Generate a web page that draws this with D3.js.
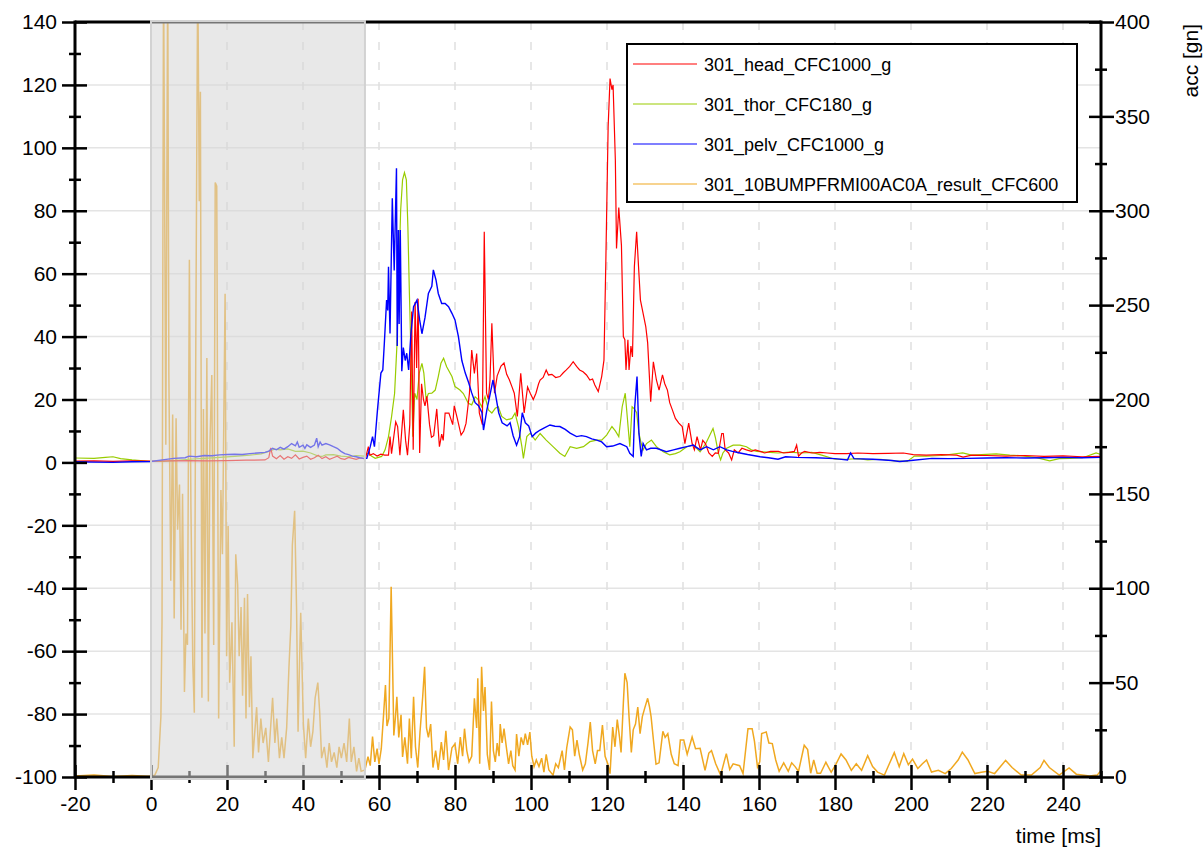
<!DOCTYPE html>
<html>
<head>
<meta charset="utf-8">
<script src="https://cdnjs.cloudflare.com/ajax/libs/d3/7.8.5/d3.min.js"></script>
<style>
  body { margin: 0; background: #fff; }
  text { font-family: "Liberation Sans", Arial, sans-serif; fill: #000; }
</style>
</head>
<body>
<svg id="chart" width="1203" height="847"></svg>
<script>
// Channel values: [time ms, value]
// head / thor / pelv on the left axis (g), the bumper channel on the right axis (gn)
const headData = [[-20,0.4],[-15,0.5],[-10,0.3],[-5,0.5],[0,0.4],[5,0.5],[10,0.6],[15,0.5],[20,0.6],[25,0.7],[30,0.8],[31,1.5],[31.5,4.6],[32,2.0],[33,1.2],[34,2.2],[35,1.0],[36,1.8],[37,1.3],[38,2.4],[39,1.1],[40,1.6],[41,2.0],[42,1.0],[43,1.5],[44,2.3],[45,1.2],[46,1.8],[47,1.0],[48,1.5],[49,2.0],[50,1.2],[51,1.0],[52,1.6],[53,1.3],[54,1.0],[55,1.4],[56,1.2],[56.5,1.5],[57.2,5.0],[57.6,2.3],[58.5,2.8],[59.5,2.0],[60.5,2.6],[61.5,2.3],[62.5,2.3],[62.9,8.2],[63.3,2.8],[64.4,12.9],[64.9,11.4],[65.5,2.3],[66.4,16.7],[67.0,7],[67.5,2.3],[68.1,12],[68.6,48],[69.0,4],[69.5,51],[69.9,30],[70.3,52],[70.7,3],[71.2,25],[71.7,20],[72.1,18],[72.6,21],[73.3,12],[73.8,8],[74.4,8.5],[75.2,17],[75.9,5],[76.5,9],[76.9,7],[77.4,15.7],[78.4,15.7],[79.4,12],[79.8,18],[80.6,14],[81.6,8.7],[82.3,10],[82.9,12.4],[83.8,22],[84.4,35.7],[85.1,28.3],[85.7,34.6],[86.4,15.7],[87.2,12],[87.7,73.3],[88.3,22],[88.8,20],[89.2,26],[89.7,44.2],[90.4,22],[91.1,27.5],[92.1,30.6],[92.9,31.6],[93.6,28],[94.3,26.3],[95.0,24],[95.6,22],[96.4,14.6],[97.3,28.3],[98.2,15.7],[99.1,24],[99.8,22],[100.6,20],[101.3,22],[102.0,25],[102.4,26.2],[103.2,27],[104.0,29.4],[104.6,27.8],[105.5,28],[106.5,27],[107.6,27.3],[108.5,28.5],[109.3,29.4],[110.2,30.5],[111.1,32],[112.0,30.5],[112.8,29.4],[113.7,28.8],[114.6,27.8],[115.5,26.2],[116.2,26.5],[116.8,24.6],[117.7,22.5],[118.6,27.3],[119.2,32.5],[119.7,64.3],[120.3,106.7],[120.8,122],[121.3,118.5],[121.6,120],[122.2,96],[122.5,68],[123.1,81],[123.8,69],[124.3,40],[124.7,39],[125.0,29.4],[125.5,39],[125.8,29.4],[126.3,37],[126.7,33.5],[127.2,62.2],[127.8,73.3],[128.3,62.2],[128.8,51.6],[129.5,47.4],[130.2,43.2],[130.7,38],[131.5,19.3],[132.2,32],[133.0,26.2],[133.7,23],[134.6,27.8],[135.2,25],[135.9,23],[136.5,19],[137.2,16.7],[138.0,14],[138.9,12.5],[139.8,11.4],[140.5,6],[141.5,12.5],[142.4,6],[143.0,4],[143.7,8.2],[144.6,4],[145.2,7],[145.9,6],[146.8,3],[147.7,1.9],[148.5,3],[149.3,2.9],[150.2,9.2],[150.6,9.2],[151.1,4],[152.0,3],[152.8,0.8],[153.5,4],[154.5,3],[155.5,4.5],[156.7,4],[158,3.5],[159,4],[160.3,3.5],[161.5,3],[163,3.5],[165.1,3.5],[166.5,3],[168,3.2],[169.3,3.5],[169.9,5.5],[170.4,2],[171.2,3],[172,3.5],[174,3],[176,3.2],[178,3],[180,2.8],[183,2.8],[186,3],[190,2.8],[194,2.9],[198,3],[200.6,2.5],[204,2.3],[208,2.5],[212,2.3],[213.7,1.7],[216,2.3],[220,2.2],[225,2.0],[230,2.2],[235,1.9],[240,2.1],[245,1.8],[250,1.9]];

const thorData = [[-20,1.4],[-15,1.3],[-12,1.6],[-10,1.8],[-8,1.2],[-5,0.8],[-2,0.5],[0,0.3],[3,0.3],[6,0.6],[10,1.0],[14,1.3],[18,1.6],[22,1.9],[26,2.3],[29,2.7],[31,3.5],[32.5,4.2],[34,4.0],[36,4.3],[38,3.5],[40,3.6],[42,3.0],[44,2.0],[45,1.9],[46,2.4],[48,2.5],[50,2.0],[52,1.8],[54,2.2],[56,2.0],[57.2,3],[58,2],[59.0,1.3],[60.7,1.9],[61.6,4],[62.5,8.2],[63.3,14.5],[64.1,21.9],[64.7,36.8],[65.2,59],[65.7,80.2],[66.2,89.8],[66.7,92.1],[67.2,89.8],[67.6,74.9],[68.0,53.7],[68.5,30.4],[68.9,8.2],[69.4,22],[70.0,20],[70.6,28.4],[71.3,31.5],[71.8,28.4],[72.4,20],[73.0,21.9],[73.9,22],[74.8,23],[75.6,27.3],[76.3,31.5],[77.0,33.1],[77.8,30.4],[79.2,27.3],[80.0,24.1],[81.3,23],[82.2,21.9],[83.5,18.8],[84.4,18.3],[85.3,20.9],[86.1,20],[87.0,17.7],[87.9,20.9],[88.8,16.7],[89.7,15.7],[90.6,17.2],[91.4,17.7],[92.3,14.6],[93.6,13.5],[95.0,14],[95.8,15.7],[96.7,11.4],[97.6,5],[98.0,1.3],[98.9,8.2],[99.8,9.3],[101.1,7.1],[102.4,9.2],[104,7.1],[105.8,5],[107.6,2.9],[108.9,1.9],[110.3,5],[112,4.5],[113.8,5],[115.5,6.6],[117.3,7.1],[118.6,7.1],[119.9,8.7],[121.3,11.4],[122.2,10],[123.1,8.2],[124.0,17.7],[124.8,22],[125.4,13.5],[126.0,5],[126.6,17.7],[127.2,17],[127.8,15.8],[128.4,9.3],[129.0,6],[129.5,4],[130.4,6],[131.7,7.1],[133.0,5],[134.8,3.4],[136.5,2.4],[138,2.8],[139.2,3.4],[141,5],[142.7,5.5],[144.5,3.4],[146,6],[147.2,9],[147.9,10.8],[148.5,8],[149.3,3],[149.9,0.8],[150.5,3],[151.5,4.5],[153.2,5.5],[155,5.5],[156.7,5],[158,4],[159.4,3.5],[162,3.3],[165,3],[168,3.3],[171,3],[173.9,3.2],[176.5,2.3],[180,1],[183.3,1],[186,1.2],[188.6,0.8],[192,1],[195.6,0.5],[199,0.3],[200.9,2],[204,2],[208,2.2],[213.6,3],[216,2.3],[222.4,2.7],[226,2.3],[229.5,2.1],[233,1.5],[236.5,0.5],[239,1.2],[242,1.3],[245.2,1.5],[248.7,3],[250,2.5]];

const pelvData = [[-20,0.2],[-15,0.1],[-10,0.0],[-5,0.2],[0,0.3],[3,0.8],[6,1.3],[9,1.5],[10,2.0],[12,1.8],[14,2.2],[16,2.1],[18,2.4],[20,2.5],[22,2.6],[24,2.5],[26,2.8],[28,3.0],[30,3.2],[31,3.6],[32,4.5],[33,4.0],[34,4.8],[35,4.2],[36,5.0],[37,6.0],[38,5.3],[38.5,6.5],[39,4.8],[40,5.5],[40.5,4.5],[41,5.6],[42,4.8],[43,5.5],[43.6,7.7],[44,5.0],[44.5,6.5],[45,5.5],[46,6.0],[47,5.6],[48,5.0],[49,4.5],[50,3.5],[51,2.8],[52,2.5],[53,2.0],[54,1.8],[55,1.5],[56,1.3],[56.8,1.3],[57.7,5],[58.3,8.2],[58.8,5],[59.6,16.7],[60.5,28.4],[61.0,29.4],[61.4,37.8],[62.0,51.6],[62.3,48.3],[62.5,62.2],[62.9,41],[63.5,84],[64.0,61],[64.6,93.5],[64.8,37],[65.1,73.9],[65.3,44],[65.6,73.9],[66.0,29],[66.4,36.5],[66.9,32.4],[67.3,34.7],[67.8,29.4],[68.4,40.9],[69.1,49.5],[70.0,51.6],[70.7,45.3],[71.3,40.9],[72.1,46],[73.0,53.7],[73.9,56],[74.3,61.2],[75.0,58],[75.6,53.7],[76.5,50.5],[77.4,50.5],[78.3,49.5],[79.2,47.4],[80.0,45.3],[80.9,40],[81.8,32.4],[82.7,28.4],[83.6,25.3],[84.4,22.1],[85.3,19],[86.2,18],[87.1,15.8],[87.5,10.3],[88.4,16.8],[89.3,22],[90.0,26.2],[90.6,22],[91.5,15.8],[92.4,12.6],[93.7,11.6],[94.5,12.6],[95.3,8.5],[96.2,5.5],[97.0,8.2],[97.7,15.8],[98.5,12.6],[99.4,11.6],[100.3,8.2],[101.2,9.3],[102.4,10.3],[103.5,11],[105,11.9],[106.3,11.5],[107.6,11.4],[109,10.5],[110.3,9.3],[112,8.2],[113.3,8.5],[114.6,8.2],[116,7.5],[117.3,7.1],[118.6,6.5],[119.9,5],[121.5,5.2],[123.4,6],[125.2,5],[126.0,2.9],[126.9,1.9],[127.3,17.7],[127.9,27.3],[128.4,9.3],[129.0,1.9],[129.5,6],[130.4,4],[131.5,4.5],[133,4.5],[135.6,3.4],[137.5,4],[139.2,4.5],[141,5],[142.7,5.5],[144.5,4],[146.2,5],[148,4],[149.7,5],[151.5,4],[153,3.5],[155,3],[157,2.5],[160.3,1.8],[162.5,1.5],[165,1],[167,1.8],[170,1.6],[175,1.5],[180,1.2],[183.3,0.8],[184.1,3],[185,1.2],[190,1.0],[195,0.6],[197,0.3],[200,0.6],[205.5,1.3],[210,1.2],[215,1.3],[220,1.4],[225,1.5],[230,1.4],[235,1.5],[240,1.6],[245,1.5],[250,1.6]];

const bumpData = [[-20,0.5],[-15,1],[-10,0.3],[-5,0.8],[-1,0.4],[0,0.5],[1,1],[1.9,5],[2.6,31.8],[2.9,82.5],[3.3,430],[3.9,176],[4.4,430],[4.7,213],[5.2,104],[5.7,192],[6.1,84],[6.6,190],[7.0,131],[7.5,155],[7.9,78],[8.3,150],[8.8,45],[9.2,76],[9.6,70],[10.1,274],[10.5,144],[11.0,60],[11.4,34],[11.8,235],[12.3,430],[12.7,305],[13.0,363],[13.4,42],[13.8,195],[14.2,76],[14.7,222],[15.1,40],[15.5,176],[16.0,213],[16.5,70],[16.9,315],[17.3,313],[17.8,31],[18.4,152],[18.8,118],[19.5,256],[19.9,64],[20.3,133],[20.7,50],[21.3,82],[21.9,16],[22.3,118],[22.8,102],[23.2,64],[23.7,90],[24.1,43],[24.6,95],[25.0,31],[25.4,97],[25.9,37],[26.3,64],[26.8,10],[27.2,21],[27.8,37],[28.3,13],[28.9,31],[29.5,18],[30.2,26],[30.9,8],[31.4,24],[32.0,42],[32.6,18],[33.1,31],[33.8,10],[34.4,21],[35.0,10],[35.7,26],[36.3,58],[36.8,80],[37.2,123],[37.8,141],[38.3,90],[38.7,24],[39.2,71],[39.4,87],[40.1,28],[40.7,10],[41.4,31],[42.0,16],[42.6,24],[43.2,42],[43.9,50],[44.4,34],[44.9,10],[45.6,16],[46.3,5],[46.9,18],[47.5,8],[48.2,13],[48.9,5],[49.5,16],[50.1,10],[50.8,18],[51.5,8],[52.2,31],[52.7,8],[53.4,16],[54.1,3],[54.7,10],[55.3,3],[56.3,3.7],[57.1,10.8],[57.7,6],[58.3,21.4],[58.9,8],[59.5,15],[60.0,7],[60.6,15],[61.2,32.9],[61.7,48.7],[62.1,27],[62.6,31],[63.2,100.8],[63.6,56.7],[63.9,22],[64.3,31],[64.7,42.5],[65.2,21],[65.8,33],[66.2,10.6],[66.8,21],[67.5,7],[68.0,31],[68.5,10],[69.1,42.5],[69.6,16],[70.2,5],[70.8,24],[71.5,42.5],[72.0,58.4],[72.5,26],[73.0,21],[73.6,28],[74.2,5],[74.9,14],[75.6,3.7],[76.4,18.5],[77.0,9],[77.6,24.5],[78.3,3.7],[79.2,15.5],[80.0,17.6],[80.7,7],[81.4,21.2],[82.0,11],[82.5,25.6],[83.1,14],[83.7,8],[84.4,11],[85.1,41.7],[85.7,26],[86.0,52.3],[86.5,7],[87.0,58.4],[87.5,35],[87.9,47.7],[88.5,12],[89.1,3.7],[89.6,40],[90.1,14],[90.6,8],[91.1,18],[91.6,11],[91.9,28],[92.4,18],[92.9,25.6],[93.5,16],[94.1,7],[94.7,14],[95.2,6],[95.8,3.7],[96.2,22.8],[96.8,11],[97.4,21],[98.0,17],[98.5,23],[99.1,17],[99.7,23.8],[100.2,11],[100.8,5.5],[101.4,9],[102.1,5.5],[102.8,10],[103.4,2.6],[104.0,12],[104.7,3.7],[105.8,1],[106.5,7],[107.2,5],[108.2,14],[108.8,3.7],[109.4,15.5],[110.3,26.5],[110.9,25],[111.5,11],[112.1,19.6],[112.7,12],[113.6,3.7],[114.3,7],[115.0,18],[115.6,29.1],[116.2,14],[116.9,7],[117.5,14],[118.1,14],[118.8,27.5],[119.5,11],[120.2,7],[120.8,1.8],[121.5,26.5],[122.1,16],[122.7,30.4],[123.3,21],[123.7,13],[124.3,39],[124.7,55],[125.3,50],[125.8,32],[126.4,13],[126.9,25],[127.5,28],[128.1,37],[128.7,23],[129.3,32],[130.0,37],[130.7,41.7],[131.2,37],[131.6,32],[132.3,18],[132.9,6.8],[133.7,7.5],[134.7,24.2],[135.3,21],[136.0,23],[136.9,12],[137.7,7],[138.7,6],[139.3,19.6],[140.2,19.6],[141.1,12],[142.4,21.2],[143.3,15],[144.5,15.2],[145.8,3.5],[146.8,12.7],[147.5,14],[148.6,7],[149.9,1],[151.4,12.4],[152.3,4],[153.2,7],[154.9,6],[155.8,1.8],[157.1,25.6],[158.2,25.6],[158.8,19],[159.6,5.3],[160.2,8],[160.7,23],[161.9,23.9],[162.6,18],[163.5,17.7],[164.4,9],[165.3,3],[166.5,7.5],[167.7,3],[168.6,7.5],[169.5,5.5],[170.4,3],[171.9,16.8],[172.8,14.5],[173.6,2],[174.4,9],[175.3,2],[176.2,2],[177.6,7.8],[179,2.5],[180.3,7],[181.6,12.2],[182.9,9],[184.3,3.5],[185.6,7],[187,3.5],[188.6,11.3],[189.9,5.5],[191.2,2.6],[193,1],[194.3,7],[195.6,12.9],[196.9,5.5],[198.1,12.4],[199.3,6.5],[200.4,9.5],[201.8,4.5],[203,7],[204.1,9],[205.4,2.6],[207.2,3.5],[209,1.8],[210.6,4.5],[212.4,9],[213.5,13.2],[215,9],[216.8,1.8],[218.5,2.5],[220.2,3],[222,1.8],[224.9,8.8],[226.6,5],[229,1],[231.7,1],[234,5],[235,8.8],[236.4,5],[239,1],[241.6,4.8],[243.5,1.5],[247,0.5],[249,1],[250,3.5]];

// Series names and colours (legend order)
const seriesNames = ["301_head_CFC1000_g", "301_thor_CFC180_g", "301_pelv_CFC1000_g", "301_10BUMPFRMI00AC0A_result_CFC600"];
const seriesColors = ["#ff0000", "#99cc00", "#0000ff", "#f0a820"];

// Axis ticks
const leftMajor = [-100, -80, -60, -40, -20, 0, 20, 40, 60, 80, 100, 120, 140];
const leftMinor = [-90, -70, -50, -30, -10, 10, 30, 50, 70, 90, 110, 130];
const rightMajor = [0, 50, 100, 150, 200, 250, 300, 350, 400];
const rightMinor = [25, 75, 125, 175, 225, 275, 325, 375];
const timeMajor = [-20, 0, 20, 40, 60, 80, 100, 120, 140, 160, 180, 200, 220, 240];
const timeMinor = [-10, 10, 30, 50, 70, 90, 110, 130, 150, 170, 190, 210, 230, 250];
const shadeRange = [0, 56.3];

const svg = d3.select("#chart");
const plot = { left: 75, right: 1101, top: 22, bottom: 777 };
const plainNum = d => String(d);   // hyphen-minus like the original, not U+2212

const x = d3.scaleLinear().domain([-20, 250]).range([plot.left, plot.right]);
const yL = d3.scaleLinear().domain([-100, 140]).range([plot.bottom, plot.top]);
const yR = d3.scaleLinear().domain([0, 400]).range([plot.bottom, plot.top]);

// Grid
svg.append("g").selectAll("line").data(leftMajor.filter(d => d > -100 && d < 140))
  .join("line")
  .attr("x1", plot.left).attr("x2", plot.right)
  .attr("y1", d => yL(d)).attr("y2", d => yL(d))
  .attr("stroke", "#e4e4e4").attr("stroke-width", 1.5);

svg.append("g").selectAll("line").data(timeMajor.filter(d => d > -20))
  .join("line")
  .attr("x1", d => x(d)).attr("x2", d => x(d))
  .attr("y1", plot.top).attr("y2", plot.bottom)
  .attr("stroke", "#e0e0e0").attr("stroke-width", 1.5)
  .attr("stroke-dasharray", "8,12");

// Lines, clipped to the plot
svg.append("clipPath").attr("id", "clip")
  .append("rect")
  .attr("x", plot.left).attr("y", plot.top)
  .attr("width", plot.right - plot.left).attr("height", plot.bottom - plot.top);

const lines = svg.append("g").attr("clip-path", "url(#clip)");
const lineL = d3.line().x(d => x(d[0])).y(d => yL(d[1]));
const lineR = d3.line().x(d => x(d[0])).y(d => yR(d[1]));

lines.append("path").datum(bumpData).attr("d", lineR)
  .attr("fill", "none").attr("stroke", seriesColors[3]).attr("stroke-width", 1.5);
lines.append("path").datum(thorData).attr("d", lineL)
  .attr("fill", "none").attr("stroke", seriesColors[1]).attr("stroke-width", 1.2);
lines.append("path").datum(headData).attr("d", lineL)
  .attr("fill", "none").attr("stroke", seriesColors[0]).attr("stroke-width", 1.2);
lines.append("path").datum(pelvData).attr("d", lineL)
  .attr("fill", "none").attr("stroke", seriesColors[2]).attr("stroke-width", 1.4);

// Axes: each tick crosses the axis line, so draw the outer and inner halves separately
function styleAxis(g) {
  g.attr("font-family", null).attr("font-size", null);
  g.selectAll("line").attr("stroke", "#000").attr("stroke-width", 2.5);
  g.selectAll("text").style("font-size", "21px");
  g.select(".domain").remove();
}

// left
svg.append("g").attr("transform", `translate(${plot.left},0)`)
  .call(d3.axisLeft(yL).tickValues(leftMajor).tickSize(13).tickPadding(5).tickFormat(plainNum))
  .call(styleAxis);
svg.append("g").attr("transform", `translate(${plot.left},0)`)
  .call(d3.axisRight(yL).tickValues(leftMajor).tickSize(12).tickFormat(""))
  .call(styleAxis);
svg.append("g").attr("transform", `translate(${plot.left},0)`)
  .call(d3.axisLeft(yL).tickValues(leftMinor).tickSize(6).tickFormat(""))
  .call(styleAxis);
svg.append("g").attr("transform", `translate(${plot.left},0)`)
  .call(d3.axisRight(yL).tickValues(leftMinor).tickSize(6).tickFormat(""))
  .call(styleAxis);

// right
svg.append("g").attr("transform", `translate(${plot.right},0)`)
  .call(d3.axisRight(yR).tickValues(rightMajor).tickSize(13).tickPadding(1).tickFormat(plainNum))
  .call(styleAxis);
svg.append("g").attr("transform", `translate(${plot.right},0)`)
  .call(d3.axisLeft(yR).tickValues(rightMajor).tickSize(12).tickFormat(""))
  .call(styleAxis);
svg.append("g").attr("transform", `translate(${plot.right},0)`)
  .call(d3.axisRight(yR).tickValues(rightMinor).tickSize(6).tickFormat(""))
  .call(styleAxis);
svg.append("g").attr("transform", `translate(${plot.right},0)`)
  .call(d3.axisLeft(yR).tickValues(rightMinor).tickSize(6).tickFormat(""))
  .call(styleAxis);

// bottom
svg.append("g").attr("transform", `translate(0,${plot.bottom})`)
  .call(d3.axisBottom(x).tickValues(timeMajor).tickSize(13).tickPadding(6).tickFormat(plainNum))
  .call(styleAxis);
svg.append("g").attr("transform", `translate(0,${plot.bottom})`)
  .call(d3.axisTop(x).tickValues(timeMajor).tickSize(12).tickFormat(""))
  .call(styleAxis);
svg.append("g").attr("transform", `translate(0,${plot.bottom})`)
  .call(d3.axisBottom(x).tickValues(timeMinor).tickSize(6).tickFormat(""))
  .call(styleAxis);
svg.append("g").attr("transform", `translate(0,${plot.bottom})`)
  .call(d3.axisTop(x).tickValues(timeMinor).tickSize(6).tickFormat(""))
  .call(styleAxis);

// frame lines
const frame = svg.append("g").attr("stroke", "#000").attr("stroke-width", 3);
frame.append("line").attr("x1", plot.left).attr("x2", plot.left).attr("y1", plot.top - 1.5).attr("y2", plot.bottom + 1.5);
frame.append("line").attr("x1", plot.right).attr("x2", plot.right).attr("y1", plot.top - 1.5).attr("y2", plot.bottom + 1.5);
frame.append("line").attr("x1", plot.left).attr("x2", plot.right).attr("y1", plot.top).attr("y2", plot.top);
frame.append("line").attr("x1", plot.left).attr("x2", plot.right).attr("y1", plot.bottom).attr("y2", plot.bottom);

// grey evaluation window, drawn over the curves
svg.append("rect")
  .attr("x", x(shadeRange[0])).attr("y", plot.top - 1)
  .attr("width", x(shadeRange[1]) - x(shadeRange[0]))
  .attr("height", plot.bottom - plot.top + 3)
  .attr("fill", "rgb(214,214,214)").attr("fill-opacity", 0.55)
  .attr("stroke", "#d2d2d2").attr("stroke-width", 2);

// axis titles
svg.append("text").attr("x", plot.right).attr("y", 843)
  .attr("text-anchor", "end").style("font-size", "21px").text("time [ms]");
svg.append("text").attr("transform", "translate(1198,24) rotate(-90)")
  .attr("text-anchor", "end").style("font-size", "21px").text("acc [gn]");

// legend
const legend = svg.append("g");
legend.append("rect").attr("x", 627).attr("y", 44).attr("width", 450).attr("height", 158)
  .attr("fill", "#fff").attr("stroke", "#000").attr("stroke-width", 2);
const rows = legend.selectAll("g.row").data(seriesNames).join("g")
  .attr("class", "row")
  .attr("transform", (d, i) => `translate(0,${64 + i * 40})`);
rows.append("line").attr("x1", 633).attr("x2", 697)
  .attr("stroke", (d, i) => seriesColors[i]).attr("stroke-width", 1.2);
rows.append("text").attr("x", 704).attr("y", 6.5)
  .style("font-size", "18px").text(d => d);
</script>
</body>
</html>
